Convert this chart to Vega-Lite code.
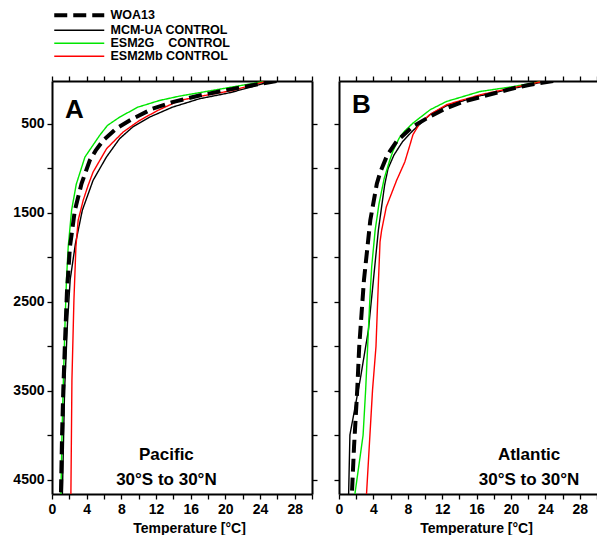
{
"$schema": "https://vega.github.io/schema/vega-lite/v6.json",
"padding": {"left": 12, "top": 9, "right": 0, "bottom": 0},
"bounds": "flush",
"spacing": 27,
"config": {
  "view": {"stroke": null},
  "font": "Liberation Sans",
  "axis": {"labelFont": "Liberation Sans", "labelFontWeight": "bold", "labelFontSize": 14, "labelColor": "black", "titleFont": "Liberation Sans", "titleFontWeight": "bold", "titleFontSize": 14, "titleColor": "black", "domainColor": "black", "domainWidth": 2, "tickColor": "black", "tickWidth": 1.3, "tickSize": 5, "grid": false, "labelPadding": 3, "titlePadding": 5, "labelFlush": false, "labelOverlap": false, "labelBound": false},
  "legend": {"labelFont": "Liberation Sans", "labelFontWeight": "bold", "labelFontSize": 12.5, "labelColor": "black", "padding": 0, "rowPadding": 0}
},
"datasets": {"profiles": [
{"basin":"Pacific","model":"WOA13","depth":20,"temp":25.9},
{"basin":"Pacific","model":"WOA13","depth":100,"temp":21.3},
{"basin":"Pacific","model":"WOA13","depth":183,"temp":17.0},
{"basin":"Pacific","model":"WOA13","depth":258,"temp":13.9},
{"basin":"Pacific","model":"WOA13","depth":332,"temp":11.6},
{"basin":"Pacific","model":"WOA13","depth":444,"temp":9.3},
{"basin":"Pacific","model":"WOA13","depth":556,"temp":7.4},
{"basin":"Pacific","model":"WOA13","depth":687,"temp":5.9},
{"basin":"Pacific","model":"WOA13","depth":800,"temp":5.05},
{"basin":"Pacific","model":"WOA13","depth":911,"temp":4.36},
{"basin":"Pacific","model":"WOA13","depth":1173,"temp":3.41},
{"basin":"Pacific","model":"WOA13","depth":1472,"temp":2.64},
{"basin":"Pacific","model":"WOA13","depth":1883,"temp":2.07},
{"basin":"Pacific","model":"WOA13","depth":2400,"temp":1.72},
{"basin":"Pacific","model":"WOA13","depth":3000,"temp":1.48},
{"basin":"Pacific","model":"WOA13","depth":3500,"temp":1.3},
{"basin":"Pacific","model":"WOA13","depth":4000,"temp":1.16},
{"basin":"Pacific","model":"WOA13","depth":4660,"temp":1.03},
{"basin":"Pacific","model":"MCM-UA CONTROL","depth":20,"temp":25.4},
{"basin":"Pacific","model":"MCM-UA CONTROL","depth":100,"temp":22.5},
{"basin":"Pacific","model":"MCM-UA CONTROL","depth":150,"temp":20.6},
{"basin":"Pacific","model":"MCM-UA CONTROL","depth":220,"temp":17.0},
{"basin":"Pacific","model":"MCM-UA CONTROL","depth":314,"temp":13.9},
{"basin":"Pacific","model":"MCM-UA CONTROL","depth":426,"temp":11.25},
{"basin":"Pacific","model":"MCM-UA CONTROL","depth":538,"temp":9.3},
{"basin":"Pacific","model":"MCM-UA CONTROL","depth":668,"temp":7.8},
{"basin":"Pacific","model":"MCM-UA CONTROL","depth":874,"temp":6.28},
{"basin":"Pacific","model":"MCM-UA CONTROL","depth":1136,"temp":4.74},
{"basin":"Pacific","model":"MCM-UA CONTROL","depth":1472,"temp":3.5},
{"basin":"Pacific","model":"MCM-UA CONTROL","depth":1850,"temp":2.7},
{"basin":"Pacific","model":"MCM-UA CONTROL","depth":2250,"temp":2.1},
{"basin":"Pacific","model":"MCM-UA CONTROL","depth":2750,"temp":1.78},
{"basin":"Pacific","model":"MCM-UA CONTROL","depth":3500,"temp":1.45},
{"basin":"Pacific","model":"MCM-UA CONTROL","depth":4660,"temp":1.2},
{"basin":"Pacific","model":"ESM2G CONTROL","depth":20,"temp":24.8},
{"basin":"Pacific","model":"ESM2G CONTROL","depth":190,"temp":14.7},
{"basin":"Pacific","model":"ESM2G CONTROL","depth":239,"temp":12.4},
{"basin":"Pacific","model":"ESM2G CONTROL","depth":314,"temp":9.9},
{"basin":"Pacific","model":"ESM2G CONTROL","depth":426,"temp":7.8},
{"basin":"Pacific","model":"ESM2G CONTROL","depth":519,"temp":6.4},
{"basin":"Pacific","model":"ESM2G CONTROL","depth":631,"temp":5.5},
{"basin":"Pacific","model":"ESM2G CONTROL","depth":874,"temp":3.8},
{"basin":"Pacific","model":"ESM2G CONTROL","depth":1180,"temp":2.8},
{"basin":"Pacific","model":"ESM2G CONTROL","depth":1472,"temp":2.26},
{"basin":"Pacific","model":"ESM2G CONTROL","depth":1883,"temp":1.87},
{"basin":"Pacific","model":"ESM2G CONTROL","depth":2250,"temp":1.67},
{"basin":"Pacific","model":"ESM2G CONTROL","depth":2750,"temp":1.5},
{"basin":"Pacific","model":"ESM2G CONTROL","depth":3500,"temp":1.28},
{"basin":"Pacific","model":"ESM2G CONTROL","depth":4000,"temp":1.15},
{"basin":"Pacific","model":"ESM2G CONTROL","depth":4660,"temp":1.03},
{"basin":"Pacific","model":"ESM2Mb CONTROL","depth":20,"temp":24.8},
{"basin":"Pacific","model":"ESM2Mb CONTROL","depth":127,"temp":20.8},
{"basin":"Pacific","model":"ESM2Mb CONTROL","depth":194,"temp":17.0},
{"basin":"Pacific","model":"ESM2Mb CONTROL","depth":239,"temp":14.7},
{"basin":"Pacific","model":"ESM2Mb CONTROL","depth":351,"temp":12.2},
{"basin":"Pacific","model":"ESM2Mb CONTROL","depth":463,"temp":10.1},
{"basin":"Pacific","model":"ESM2Mb CONTROL","depth":594,"temp":8.2},
{"basin":"Pacific","model":"ESM2Mb CONTROL","depth":780,"temp":6.3},
{"basin":"Pacific","model":"ESM2Mb CONTROL","depth":1043,"temp":4.74},
{"basin":"Pacific","model":"ESM2Mb CONTROL","depth":1192,"temp":4.17},
{"basin":"Pacific","model":"ESM2Mb CONTROL","depth":1360,"temp":3.6},
{"basin":"Pacific","model":"ESM2Mb CONTROL","depth":1584,"temp":3.02},
{"basin":"Pacific","model":"ESM2Mb CONTROL","depth":1883,"temp":2.76},
{"basin":"Pacific","model":"ESM2Mb CONTROL","depth":2481,"temp":2.53},
{"basin":"Pacific","model":"ESM2Mb CONTROL","depth":3378,"temp":2.3},
{"basin":"Pacific","model":"ESM2Mb CONTROL","depth":4660,"temp":2.18},
{"basin":"Atlantic","model":"WOA13","depth":20,"temp":24.9},
{"basin":"Atlantic","model":"WOA13","depth":63,"temp":22.2},
{"basin":"Atlantic","model":"WOA13","depth":101,"temp":20.3},
{"basin":"Atlantic","model":"WOA13","depth":202,"temp":16.4},
{"basin":"Atlantic","model":"WOA13","depth":250,"temp":14.5},
{"basin":"Atlantic","model":"WOA13","depth":325,"temp":12.5},
{"basin":"Atlantic","model":"WOA13","depth":418,"temp":10.6},
{"basin":"Atlantic","model":"WOA13","depth":530,"temp":8.6},
{"basin":"Atlantic","model":"WOA13","depth":698,"temp":6.7},
{"basin":"Atlantic","model":"WOA13","depth":855,"temp":5.6},
{"basin":"Atlantic","model":"WOA13","depth":1043,"temp":4.8},
{"basin":"Atlantic","model":"WOA13","depth":1173,"temp":4.4},
{"basin":"Atlantic","model":"WOA13","depth":1584,"temp":3.64},
{"basin":"Atlantic","model":"WOA13","depth":2257,"temp":2.9},
{"basin":"Atlantic","model":"WOA13","depth":3004,"temp":2.35},
{"basin":"Atlantic","model":"WOA13","depth":3490,"temp":2.12},
{"basin":"Atlantic","model":"WOA13","depth":4126,"temp":1.75},
{"basin":"Atlantic","model":"WOA13","depth":4660,"temp":1.5},
{"basin":"Atlantic","model":"MCM-UA CONTROL","depth":20,"temp":24.2},
{"basin":"Atlantic","model":"MCM-UA CONTROL","depth":186,"temp":16.4},
{"basin":"Atlantic","model":"MCM-UA CONTROL","depth":298,"temp":12.5},
{"basin":"Atlantic","model":"MCM-UA CONTROL","depth":396,"temp":10.6},
{"basin":"Atlantic","model":"MCM-UA CONTROL","depth":586,"temp":8.5},
{"basin":"Atlantic","model":"MCM-UA CONTROL","depth":700,"temp":7.4},
{"basin":"Atlantic","model":"MCM-UA CONTROL","depth":850,"temp":6.4},
{"basin":"Atlantic","model":"MCM-UA CONTROL","depth":1005,"temp":5.7},
{"basin":"Atlantic","model":"MCM-UA CONTROL","depth":1192,"temp":5.3},
{"basin":"Atlantic","model":"MCM-UA CONTROL","depth":1696,"temp":4.58},
{"basin":"Atlantic","model":"MCM-UA CONTROL","depth":2257,"temp":4.0},
{"basin":"Atlantic","model":"MCM-UA CONTROL","depth":2818,"temp":3.42},
{"basin":"Atlantic","model":"MCM-UA CONTROL","depth":3378,"temp":2.46},
{"basin":"Atlantic","model":"MCM-UA CONTROL","depth":3995,"temp":1.27},
{"basin":"Atlantic","model":"MCM-UA CONTROL","depth":4660,"temp":1.12},
{"basin":"Atlantic","model":"ESM2G CONTROL","depth":20,"temp":23.9},
{"basin":"Atlantic","model":"ESM2G CONTROL","depth":82,"temp":20.3},
{"basin":"Atlantic","model":"ESM2G CONTROL","depth":138,"temp":16.4},
{"basin":"Atlantic","model":"ESM2G CONTROL","depth":250,"temp":12.5},
{"basin":"Atlantic","model":"ESM2G CONTROL","depth":343,"temp":10.6},
{"basin":"Atlantic","model":"ESM2G CONTROL","depth":493,"temp":8.6},
{"basin":"Atlantic","model":"ESM2G CONTROL","depth":586,"temp":7.6},
{"basin":"Atlantic","model":"ESM2G CONTROL","depth":661,"temp":7.0},
{"basin":"Atlantic","model":"ESM2G CONTROL","depth":800,"temp":6.3},
{"basin":"Atlantic","model":"ESM2G CONTROL","depth":911,"temp":5.9},
{"basin":"Atlantic","model":"ESM2G CONTROL","depth":1117,"temp":5.25},
{"basin":"Atlantic","model":"ESM2G CONTROL","depth":1400,"temp":4.65},
{"basin":"Atlantic","model":"ESM2G CONTROL","depth":1700,"temp":4.2},
{"basin":"Atlantic","model":"ESM2G CONTROL","depth":2108,"temp":3.8},
{"basin":"Atlantic","model":"ESM2G CONTROL","depth":2444,"temp":3.6},
{"basin":"Atlantic","model":"ESM2G CONTROL","depth":2818,"temp":3.42},
{"basin":"Atlantic","model":"ESM2G CONTROL","depth":3490,"temp":3.1},
{"basin":"Atlantic","model":"ESM2G CONTROL","depth":4000,"temp":2.8},
{"basin":"Atlantic","model":"ESM2G CONTROL","depth":4660,"temp":1.85},
{"basin":"Atlantic","model":"ESM2Mb CONTROL","depth":20,"temp":23.9},
{"basin":"Atlantic","model":"ESM2Mb CONTROL","depth":175,"temp":16.4},
{"basin":"Atlantic","model":"ESM2Mb CONTROL","depth":287,"temp":12.5},
{"basin":"Atlantic","model":"ESM2Mb CONTROL","depth":396,"temp":10.6},
{"basin":"Atlantic","model":"ESM2Mb CONTROL","depth":493,"temp":9.4},
{"basin":"Atlantic","model":"ESM2Mb CONTROL","depth":623,"temp":8.6},
{"basin":"Atlantic","model":"ESM2Mb CONTROL","depth":754,"temp":8.2},
{"basin":"Atlantic","model":"ESM2Mb CONTROL","depth":930,"temp":7.65},
{"basin":"Atlantic","model":"ESM2Mb CONTROL","depth":1136,"temp":6.7},
{"basin":"Atlantic","model":"ESM2Mb CONTROL","depth":1435,"temp":5.5},
{"basin":"Atlantic","model":"ESM2Mb CONTROL","depth":1696,"temp":4.96},
{"basin":"Atlantic","model":"ESM2Mb CONTROL","depth":1827,"temp":4.77},
{"basin":"Atlantic","model":"ESM2Mb CONTROL","depth":2481,"temp":4.5},
{"basin":"Atlantic","model":"ESM2Mb CONTROL","depth":3004,"temp":4.3},
{"basin":"Atlantic","model":"ESM2Mb CONTROL","depth":3490,"temp":3.9},
{"basin":"Atlantic","model":"ESM2Mb CONTROL","depth":4660,"temp":3.2}
]},
"hconcat": [
{
  "width": 260, "height": 413,
  "resolve": {"axis": {"x": "independent", "y": "independent"}},
  "layer": [
    {
      "data": {"name": "profiles"},
      "transform": [{"filter": "datum.basin == 'Pacific' && datum.model != 'WOA13'"}],
      "mark": {"type": "line", "clip": true, "strokeWidth": 1.4},
      "encoding": {
        "x": {"field": "temp", "type": "quantitative", "scale": {"domain": [0, 30], "nice": false, "zero": false},
              "axis": {"orient": "bottom", "values": [0,2,4,6,8,10,12,14,16,18,20,22,24,26,28,30], "labelExpr": "datum.value % 4 == 0 && datum.value < 30 ? datum.label : ''", "title": "Temperature [°C]", "titleX": 137}},
        "y": {"field": "depth", "type": "quantitative", "scale": {"domain": [20, 4660], "reverse": true, "nice": false, "zero": false},
              "axis": {"orient": "left", "values": [500,1000,1500,2000,2500,3000,3500,4000,4500], "format": "d", "labelExpr": "datum.value % 1000 == 500 ? datum.label : ''", "title": null}},
        "order": {"field": "depth", "type": "quantitative"},
        "color": {"field": "model", "type": "nominal", "scale": {"domain": ["WOA13", "MCM-UA CONTROL", "ESM2G CONTROL", "ESM2Mb CONTROL"], "range": ["#000000", "#000000", "#00e600", "#ff0000"]},
                  "legend": {"title": null, "orient": "none", "legendX": 0, "legendY": -72, "symbolType": "M-1,0H11.5", "symbolSize": 64, "labelOffset": 46, "labelExpr": "datum.label == 'ESM2G CONTROL' ? 'ESM2G\u00a0\u00a0\u00a0\u00a0CONTROL' : datum.label", "encode": {"symbols": {"update": {"strokeWidth": {"signal": "datum.value === 'WOA13' ? 4 : 1.4"}}}}}},
        "strokeDash": {"field": "model", "type": "nominal", "scale": {"domain": ["WOA13", "MCM-UA CONTROL", "ESM2G CONTROL", "ESM2Mb CONTROL"], "range": [[13, 6], [1, 0], [1, 0], [1, 0]]},
                  "legend": {"title": null, "orient": "none", "legendX": 0, "legendY": -72, "symbolType": "M-1,0H11.5", "symbolSize": 64, "labelOffset": 46, "labelExpr": "datum.label == 'ESM2G CONTROL' ? 'ESM2G\u00a0\u00a0\u00a0\u00a0CONTROL' : datum.label", "encode": {"symbols": {"update": {"strokeWidth": {"signal": "datum.value === 'WOA13' ? 4 : 1.4"}}}}}}
      }
    },
    {
      "data": {"name": "profiles"},
      "transform": [{"filter": "datum.basin == 'Pacific' && datum.model == 'WOA13'"}],
      "mark": {"type": "line", "clip": true, "strokeWidth": 4},
      "encoding": {
        "x": {"field": "temp", "type": "quantitative", "axis": {"orient": "top", "values": [0,2,4,6,8,10,12,14,16,18,20,22,24,26,28,30], "labels": false, "title": null}},
        "y": {"field": "depth", "type": "quantitative", "axis": {"orient": "right", "values": [500,1000,1500,2000,2500,3000,3500,4000,4500], "labels": false, "title": null}},
        "order": {"field": "depth", "type": "quantitative"},
        "color": {"field": "model", "type": "nominal"},
        "strokeDash": {"field": "model", "type": "nominal"}
      }
    },
    {
      "data": {"values": [{}]},
      "mark": {"type": "text", "text": "A", "font": "Liberation Sans", "fontWeight": "bold", "fontSize": 26, "align": "left", "baseline": "alphabetic", "color": "black"},
      "encoding": {"x": {"datum": 1.5, "type": "quantitative", "axis": null}, "y": {"datum": 433, "type": "quantitative", "axis": null}}
    },
    {
      "data": {"values": [{}]},
      "mark": {"type": "text", "text": ["Pacific", "30°S to 30°N"], "lineHeight": 24.3, "font": "Liberation Sans", "fontWeight": "bold", "fontSize": 17, "align": "center", "baseline": "alphabetic", "color": "black"},
      "encoding": {"x": {"datum": 13.2, "type": "quantitative", "axis": null}, "y": {"datum": 4282, "type": "quantitative", "axis": null}}
    }
  ]
},
{
  "width": 258, "height": 413,
  "resolve": {"axis": {"x": "independent", "y": "independent"}},
  "layer": [
    {
      "data": {"name": "profiles"},
      "transform": [{"filter": "datum.basin == 'Atlantic' && datum.model != 'WOA13'"}],
      "mark": {"type": "line", "clip": true, "strokeWidth": 1.4},
      "encoding": {
        "x": {"field": "temp", "type": "quantitative", "scale": {"domain": [0, 30], "nice": false, "zero": false},
              "axis": {"orient": "bottom", "values": [0,2,4,6,8,10,12,14,16,18,20,22,24,26,28,30], "labelExpr": "datum.value % 4 == 0 && datum.value < 30 ? datum.label : ''", "title": "Temperature [°C]", "titleX": 137}},
        "y": {"field": "depth", "type": "quantitative", "scale": {"domain": [20, 4660], "reverse": true, "nice": false, "zero": false},
              "axis": {"orient": "left", "values": [500,1000,1500,2000,2500,3000,3500,4000,4500], "labels": false, "title": null}},
        "order": {"field": "depth", "type": "quantitative"},
        "color": {"field": "model", "type": "nominal"},
        "strokeDash": {"field": "model", "type": "nominal"}
      }
    },
    {
      "data": {"name": "profiles"},
      "transform": [{"filter": "datum.basin == 'Atlantic' && datum.model == 'WOA13'"}],
      "mark": {"type": "line", "clip": true, "strokeWidth": 4},
      "encoding": {
        "x": {"field": "temp", "type": "quantitative", "axis": {"orient": "top", "values": [0,2,4,6,8,10,12,14,16,18,20,22,24,26,28,30], "labels": false, "title": null}},
        "y": {"field": "depth", "type": "quantitative", "axis": null},
        "order": {"field": "depth", "type": "quantitative"},
        "color": {"field": "model", "type": "nominal"},
        "strokeDash": {"field": "model", "type": "nominal"}
      }
    },
    {
      "data": {"values": [{}]},
      "mark": {"type": "text", "text": "B", "font": "Liberation Sans", "fontWeight": "bold", "fontSize": 26, "align": "left", "baseline": "alphabetic", "color": "black"},
      "encoding": {"x": {"datum": 1.5, "type": "quantitative", "axis": null}, "y": {"datum": 381, "type": "quantitative", "axis": null}}
    },
    {
      "data": {"values": [{}]},
      "mark": {"type": "text", "text": ["Atlantic", "30°S to 30°N"], "lineHeight": 24.3, "font": "Liberation Sans", "fontWeight": "bold", "fontSize": 17, "align": "center", "baseline": "alphabetic", "color": "black"},
      "encoding": {"x": {"datum": 22.1, "type": "quantitative", "axis": null}, "y": {"datum": 4282, "type": "quantitative", "axis": null}}
    }
  ]
}
]
}
